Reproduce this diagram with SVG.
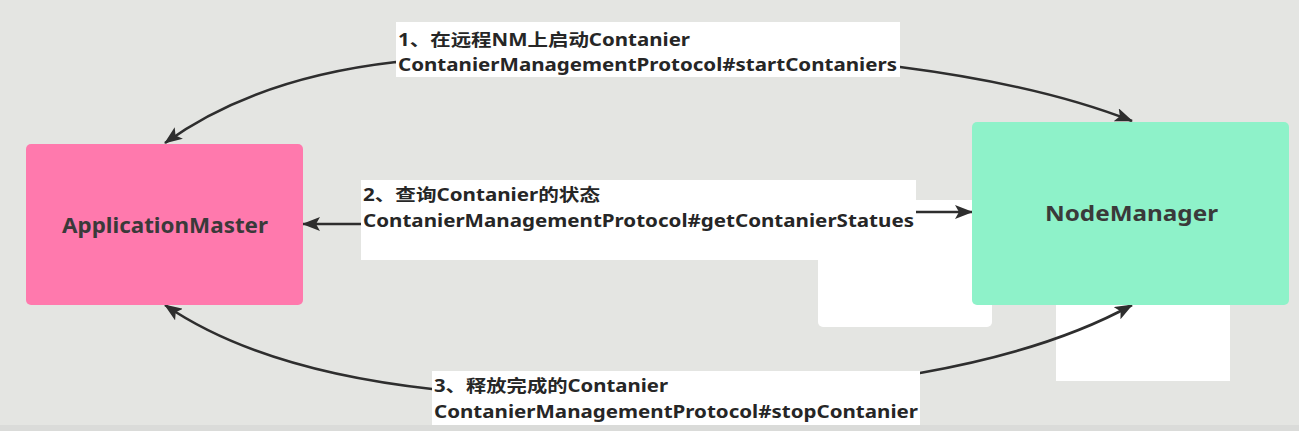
<svg xmlns="http://www.w3.org/2000/svg" width="1299" height="431" viewBox="0 0 1299 431">
<defs>
<marker id="ah" viewBox="0 0 18 14" refX="17" refY="7" markerWidth="18" markerHeight="14" markerUnits="userSpaceOnUse" orient="auto-start-reverse">
<path d="M0,0 L18,7 L0,14 L4,7 Z" fill="#2e2e2e"/>
</marker>
</defs>
<style>
.lbl{font-family:"Noto Sans","Noto Sans CJK SC",sans-serif;font-weight:bold;font-size:17px;fill:#262626}
.node{font-family:"Noto Sans","Noto Sans CJK SC",sans-serif;font-weight:bold;font-size:22px;fill:#3a3a3a}
.bg{fill:#ffffff}
.conn{fill:none;stroke:#2e2e2e;stroke-width:2.6;marker-start:url(#ah);marker-end:url(#ah)}
</style>
<rect width="1299" height="431" fill="#e4e5e2"/>
<rect y="425" width="1299" height="6" fill="#dadbd9"/>
<rect class="bg" x="818" y="200" width="174" height="127" rx="5"/>
<rect class="bg" x="1056" y="290" width="174" height="91"/>
<rect class="bg" x="900" y="204" width="72" height="56"/>
<g id="connectors">
<path class="conn" d="M165,143 Q255,78 396,62 L900,67 Q1040,85 1132,121"/>
<path class="conn" d="M303,224 L620,224 L620,212 L972,212"/>
<path class="conn" d="M165,305 Q260,370 432,389 L920,373 Q1050,350 1132,305"/>
</g>
<g id="label1">
<rect class="bg" x="396" y="22" width="504" height="55"/>
<text class="lbl" x="398" y="46" textLength="292" lengthAdjust="spacingAndGlyphs">1、在远程NM上启动Contanier</text>
<text class="lbl" x="398" y="71" textLength="499" lengthAdjust="spacingAndGlyphs">ContanierManagementProtocol#startContaniers</text>
</g>
<g id="label2">
<rect class="bg" x="361" y="180" width="555" height="80"/>
<text class="lbl" x="363" y="201" textLength="237" lengthAdjust="spacingAndGlyphs">2、查询Contanier的状态</text>
<text class="lbl" x="363" y="227" textLength="551" lengthAdjust="spacingAndGlyphs">ContanierManagementProtocol#getContanierStatues</text>
</g>
<g id="label3">
<rect class="bg" x="432" y="371" width="488" height="54"/>
<text class="lbl" x="434" y="392" textLength="234" lengthAdjust="spacingAndGlyphs">3、释放完成的Contanier</text>
<text class="lbl" x="434" y="418" textLength="484" lengthAdjust="spacingAndGlyphs">ContanierManagementProtocol#stopContanier</text>
</g>
<g id="ApplicationMaster">
<rect x="26" y="144" width="277" height="161" rx="5" fill="#ff79ad"/>
<text class="node" x="62" y="233" textLength="206" lengthAdjust="spacingAndGlyphs">ApplicationMaster</text>
</g>
<g id="NodeManager">
<rect x="972" y="122" width="317" height="183" rx="5" fill="#8ef2c9"/>
<text class="node" x="1045" y="221" textLength="173" lengthAdjust="spacingAndGlyphs">NodeManager</text>
</g>
</svg>
